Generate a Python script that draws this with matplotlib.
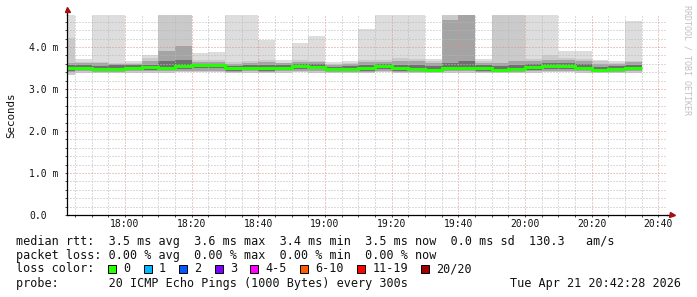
import numpy as np
import matplotlib
matplotlib.use("Agg")
import matplotlib.pyplot as plt
from matplotlib.patches import Rectangle
from matplotlib.ticker import MultipleLocator

# ---------------- data ----------------
bin_start = ["17:40", "17:45", "17:50", "17:55", "18:00", "18:05", "18:10", "18:15",
             "18:20", "18:25", "18:30", "18:35", "18:40", "18:45", "18:50", "18:55",
             "19:00", "19:05", "19:10", "19:15", "19:20", "19:25", "19:30", "19:35",
             "19:40", "19:45", "19:50", "19:55", "20:00", "20:05", "20:10", "20:15",
             "20:20", "20:25", "20:30"]
bin_minutes = 5

# median rtt (ms)
median = [3.50, 3.50, 3.47, 3.48, 3.50, 3.52, 3.50, 3.54, 3.56, 3.56, 3.49, 3.50,
          3.49, 3.50, 3.55, 3.53, 3.47, 3.48, 3.49, 3.54, 3.49, 3.48, 3.46, 3.51,
          3.51, 3.49, 3.45, 3.47, 3.52, 3.54, 3.54, 3.51, 3.46, 3.48, 3.51]
# smoke: highest ping (pair 1 top)
max_rtt = [5.00, 3.72, 5.00, 5.00, 3.66, 3.82, 5.00, 5.00, 3.86, 3.88, 5.00, 5.00,
           4.17, 3.70, 4.10, 4.26, 3.64, 3.67, 4.43, 5.00, 5.00, 5.00, 3.71, 5.00,
           5.00, 3.71, 5.00, 5.00, 5.00, 5.00, 3.90, 3.91, 3.70, 3.66, 4.63]
# pair 2 top
hi2 = [4.21, 3.64, 3.64, 3.62, 3.63, 3.74, 5.00, 5.00, 3.68, 3.70, 3.64, 3.66,
       3.68, 3.63, 3.69, 3.67, 3.60, 3.63, 3.68, 3.70, 3.74, 3.72, 3.66, 5.00,
       5.00, 3.66, 5.00, 5.00, 3.72, 3.80, 3.74, 3.71, 3.66, 3.62, 3.66]
# pair 4 top
hi4 = [3.62, 3.61, 3.61, 3.60, 3.60, 3.66, 3.91, 4.03, 3.64, 3.64, 3.60, 3.63,
       3.64, 3.61, 3.65, 3.64, 3.58, 3.60, 3.64, 3.65, 3.66, 3.67, 3.61, 4.64,
       5.00, 3.62, 3.62, 3.67, 3.66, 3.68, 3.69, 3.66, 3.60, 3.60, 3.64]
# pair 6 top
hi6 = [3.56, 3.57, 3.55, 3.56, 3.56, 3.58, 3.66, 3.70, 3.60, 3.60, 3.55, 3.56,
       3.56, 3.56, 3.60, 3.59, 3.53, 3.54, 3.56, 3.60, 3.57, 3.57, 3.54, 3.62,
       3.66, 3.56, 3.54, 3.56, 3.59, 3.61, 3.62, 3.59, 3.53, 3.55, 3.58]
# pair 6 bottom
lo6 = [3.44, 3.45, 3.43, 3.44, 3.45, 3.46, 3.45, 3.48, 3.50, 3.49, 3.44, 3.45,
       3.44, 3.45, 3.48, 3.47, 3.43, 3.44, 3.44, 3.48, 3.44, 3.43, 3.42, 3.46,
       3.46, 3.44, 3.42, 3.43, 3.46, 3.47, 3.47, 3.46, 3.42, 3.43, 3.46]
# pair 4 bottom
lo4 = [3.40, 3.42, 3.41, 3.41, 3.42, 3.42, 3.42, 3.43, 3.44, 3.44, 3.41, 3.42,
       3.41, 3.42, 3.43, 3.43, 3.41, 3.41, 3.41, 3.43, 3.41, 3.41, 3.40, 3.42,
       3.42, 3.41, 3.40, 3.40, 3.42, 3.43, 3.43, 3.42, 3.40, 3.41, 3.42]
# lowest ping (pair 1 / 2 bottom)
min_rtt = [3.33, 3.39, 3.38, 3.38, 3.39, 3.39, 3.39, 3.40, 3.40, 3.40, 3.38, 3.39,
           3.38, 3.39, 3.40, 3.39, 3.38, 3.38, 3.38, 3.40, 3.38, 3.38, 3.37, 3.39,
           3.39, 3.38, 3.37, 3.37, 3.39, 3.40, 3.40, 3.39, 3.37, 3.38, 3.39]

x_tick_labels = ["18:00", "18:20", "18:40", "19:00", "19:20", "19:40", "20:00", "20:20", "20:40"]
y_tick_values = [0.0, 1.0, 2.0, 3.0, 4.0]
y_tick_labels = ["0.0", "1.0 m", "2.0 m", "3.0 m", "4.0 m"]

graph_end = "20:42:28"
graph_hours = 3
y_top = 4.762

legend_rtt = "median rtt:  3.5 ms avg  3.6 ms max  3.4 ms min  3.5 ms now  0.0 ms sd  130.3   am/s"
legend_loss = "packet loss: 0.00 % avg  0.00 % max  0.00 % min  0.00 % now"
legend_probe = "probe:       20 ICMP Echo Pings (1000 Bytes) every 300s"
timestamp = "Tue Apr 21 20:42:28 2026"
loss_labels = ["0", "1", "2", "3", "4-5", "6-10", "11-19", "20/20"]
loss_colors = ["#26ff00", "#00b8ff", "#0059ff", "#7e00ff", "#ff00ff", "#ff5e00", "#ff0000", "#a10000"]

# smoke pair colours (outer -> inner)
smoke_colors = ["#dddddd", "#cacaca", "#a4a4a4", "#707070"]

# ---------------- helpers ----------------
def to_min(s):
    parts = [int(p) for p in s.split(":")]
    v = parts[0] * 60 + parts[1]
    if len(parts) > 2:
        v += parts[2] / 60.0
    return v

starts = np.array([to_min(s) for s in bin_start], dtype=float)
edges = np.append(starts, starts[-1] + bin_minutes)
x_end = to_min(graph_end)
x_start = x_end - graph_hours * 60

W, H = 697, 297
MONO = "DejaVu Sans Mono"

fig = plt.figure(figsize=(W / 100, H / 100), dpi=100)
fig.patch.set_facecolor("white")
ax = fig.add_axes([66.5 / W, 82 / H, 600 / W, 200 / H])
ax.set_facecolor("white")

# smoke
bands = [(max_rtt, min_rtt), (hi2, min_rtt), (hi4, lo4), (hi6, lo6)]
for (top, bot), col in zip(bands, smoke_colors):
    ax.stairs(top, edges, baseline=bot, fill=True, color=col, linewidth=0,
              antialiased=False, zorder=1)

# median line
ax.stairs(median, edges, baseline=None, color="#22ff00", linewidth=2.2, zorder=3)

ax.set_xlim(x_start, x_end)
ax.set_ylim(0, y_top)

# ticks
ax.set_xticks([to_min(s) for s in x_tick_labels], x_tick_labels)
ax.xaxis.set_minor_locator(MultipleLocator(5))
ax.set_yticks(y_tick_values, y_tick_labels)
ax.yaxis.set_minor_locator(MultipleLocator(0.2))

ax.tick_params(which="both", direction="out", length=1.6, width=0.7, color="#444444",
               labelsize=7, labelcolor="#111111")
ax.tick_params(axis="x", pad=1.0)
ax.tick_params(axis="y", pad=25.3)
for t in ax.get_xticklabels():
    t.set_fontfamily(MONO)
for t in ax.get_yticklabels():
    t.set_fontfamily(MONO)
    t.set_horizontalalignment("left")

# grid
ax.set_axisbelow(False)
ax.grid(which="minor", color="#b8b8b8", linestyle=(0, (1, 2)), linewidth=0.72)
ax.grid(which="major", color="#e09090", linestyle=(0, (1, 2)), linewidth=0.72)

# spines and arrows
for s in ["top", "right"]:
    ax.spines[s].set_visible(False)
for s in ["left", "bottom"]:
    ax.spines[s].set_color("black")
    ax.spines[s].set_linewidth(0.9)
    ax.spines[s].set_zorder(4)
ax.plot([0, 0], [1, 1.025], transform=ax.transAxes, clip_on=False, color="black", lw=0.9)
ax.plot([1, 1.006], [0, 0], transform=ax.transAxes, clip_on=False, color="black", lw=0.9)
ax.plot([0], [1.03], marker="^", ms=3.6, color="#a01010", transform=ax.transAxes, clip_on=False)
ax.plot([1.009], [0], marker=">", ms=3.6, color="#a01010", transform=ax.transAxes, clip_on=False)

# labels
def fx(x):
    return x / W

def fy(y):
    return 1 - y / H

fig.text(fx(11), fy(115), "Seconds", rotation=90, ha="center", va="center",
         family=MONO, size=7.8, color="#111111")
fig.text(fx(687), fy(60), "RRDTOOL / TOBI OETIKER", rotation=270, ha="center",
         va="center", family=MONO, size=6, color="#c0c0c0")

LS = 8.5
CW = 7.12
X0 = 16.5
fig.text(fx(X0), fy(241), legend_rtt, family=MONO, size=LS, va="center", color="#111111")
fig.text(fx(X0), fy(255), legend_loss, family=MONO, size=LS, va="center", color="#111111")
fig.text(fx(X0), fy(269), "loss color:", family=MONO, size=LS, va="center", color="#111111")
fig.text(fx(X0), fy(283), legend_probe, family=MONO, size=LS, va="center", color="#111111")
fig.text(fx(681), fy(283), timestamp, family=MONO, size=LS, va="center", ha="right",
         color="#111111")

col = 13
for lab, c in zip(loss_labels, loss_colors):
    bx = X0 + col * CW - 1
    fig.add_artist(Rectangle((fx(bx), fy(273)), 8 / W, 8 / H, facecolor=c,
                             edgecolor="black", linewidth=0.7,
                             transform=fig.transFigure))
    fig.text(fx(X0 + (col + 2) * CW), fy(269), lab, family=MONO, size=LS,
             va="center", color="#111111")
    col += 2 + len(lab) + 2

fig.savefig("out.png", dpi=100, facecolor="white")
